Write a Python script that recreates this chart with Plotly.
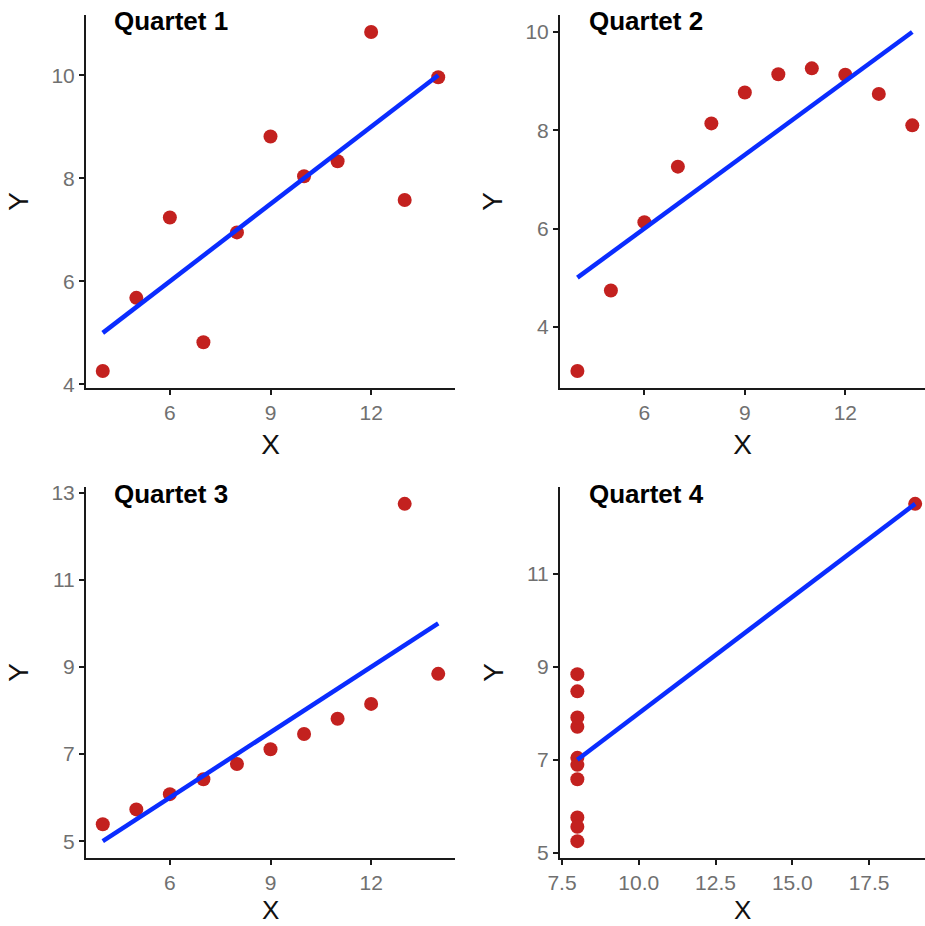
import numpy as np
import plotly.graph_objects as go

# Anscombe's quartet
x123 = [10, 8, 13, 9, 11, 14, 6, 4, 12, 7, 5]
y1 = [8.04, 6.95, 7.58, 8.81, 8.33, 9.96, 7.24, 4.26, 10.84, 4.82, 5.68]
y2 = [9.14, 8.14, 8.74, 8.77, 9.26, 8.10, 6.13, 3.10, 9.13, 7.26, 4.74]
y3 = [7.46, 6.77, 12.74, 7.11, 7.81, 8.84, 6.08, 5.39, 8.15, 6.42, 5.73]
x4 = [8, 8, 8, 8, 8, 8, 8, 19, 8, 8, 8]
y4 = [6.58, 5.76, 7.71, 8.84, 8.47, 7.04, 5.25, 12.50, 5.56, 7.91, 6.89]

titles = ["Quartet 1", "Quartet 2", "Quartet 3", "Quartet 4"]
xticks = [[6, 9, 12], [6, 9, 12], [6, 9, 12], [7.5, 10.0, 12.5, 15.0, 17.5]]
yticks = [[4, 6, 8, 10], [4, 6, 8, 10], [5, 7, 9, 11, 13], [5, 7, 9, 11]]
xranges = [[3.5, 14.5], [3.48, 14.38], [3.5, 14.5], [7.435, 19.32]]

datasets = [(x123, y1), (x123, y2), (x123, y3), (x4, y4)]

W, H = 925, 926
# pixel domains
xdoms = [[86 / W, 455 / W], [560 / W, 1.0], [86 / W, 455 / W], [560 / W, 1.0]]
top_dom = [(H - 388) / H, (H - 15) / H]
bot_dom = [(H - 858) / H, (H - 487) / H]
ydoms = [top_dom, top_dom, bot_dom, bot_dom]

POINT = "#C3211F"
LINE = "#0a2cff"
AXC = "#1a1a1a"
TICKC = "#707070"
FONT = "Liberation Sans, Arial, sans-serif"
TITLE_FONT = dict(family=FONT, size=28, color="#111111")

fig = go.Figure()
for i, (xs, ys) in enumerate(datasets):
    n = "" if i == 0 else str(i + 1)
    xa, ya = "x" + n, "y" + n
    xs_a = np.array(xs, dtype=float)
    ys_a = np.array(ys, dtype=float)
    slope, icpt = np.polyfit(xs_a, ys_a, 1)
    lx = np.array([xs_a.min(), xs_a.max()])
    ly = icpt + slope * lx
    fig.add_trace(go.Scatter(x=xs, y=ys, mode="markers", xaxis=xa, yaxis=ya,
                             marker=dict(color=POINT, size=14, line=dict(width=0)),
                             cliponaxis=False, showlegend=False))
    fig.add_trace(go.Scatter(x=lx, y=ly, mode="lines", xaxis=xa, yaxis=ya,
                             line=dict(color=LINE, width=4.5),
                             cliponaxis=False, showlegend=False))
    # y-range with ggplot-like 5% expansion
    ally = np.concatenate([ys_a, ly])
    ymin, ymax = ally.min(), ally.max()
    pad = 0.05 * (ymax - ymin)
    yr = [ymin - pad, ymax + pad]
    common = dict(showgrid=False, zeroline=False, showline=True, linecolor=AXC,
                  linewidth=2, ticks="outside", ticklen=5, tickwidth=2, tickcolor=AXC,
                  automargin=False,
                  tickfont=dict(family=FONT, size=21, color=TICKC))
    xkey = "xaxis" + n
    ykey = "yaxis" + n
    xtitle = dict(text="X", font=TITLE_FONT, standoff=11) if i < 2 else None
    fig.layout[xkey] = dict(common, domain=xdoms[i], anchor=ya, range=xranges[i],
                            tickvals=xticks[i],
                            ticktext=[("%.1f" % v) if i == 3 else str(v) for v in xticks[i]],
                            title=xtitle)
    fig.layout[ykey] = dict(common, domain=ydoms[i], anchor=xa, range=yr,
                            tickvals=yticks[i],
                            title=dict(text="Y", font=TITLE_FONT, standoff=15))
    if i >= 2:
        # bottom-row X titles placed explicitly (they sit at the page's bottom edge)
        fig.add_annotation(text="X", xref="x" + n + " domain", yref="paper",
                           x=0.5, y=0, xanchor="center", yanchor="bottom",
                           borderpad=0, showarrow=False,
                           font=dict(family=FONT, size=26, color="#111111"))

# panel titles
title_pos = [(112, 21), (587, 21), (112, 494), (587, 494)]
for t, (px, py) in zip(titles, title_pos):
    fig.add_annotation(text="<b>%s</b>" % t, xref="paper", yref="paper",
                       x=px / W, y=(H - py) / H, xanchor="left", yanchor="middle",
                       showarrow=False, font=dict(family=FONT, size=26, color="black"))

fig.update_layout(width=W, height=H, margin=dict(l=0, r=0, t=0, b=0),
                  paper_bgcolor="white", plot_bgcolor="white")
fig.write_html("out.html", config={"displayModeBar": False},
               post_script="document.body.style.margin='0px';")
